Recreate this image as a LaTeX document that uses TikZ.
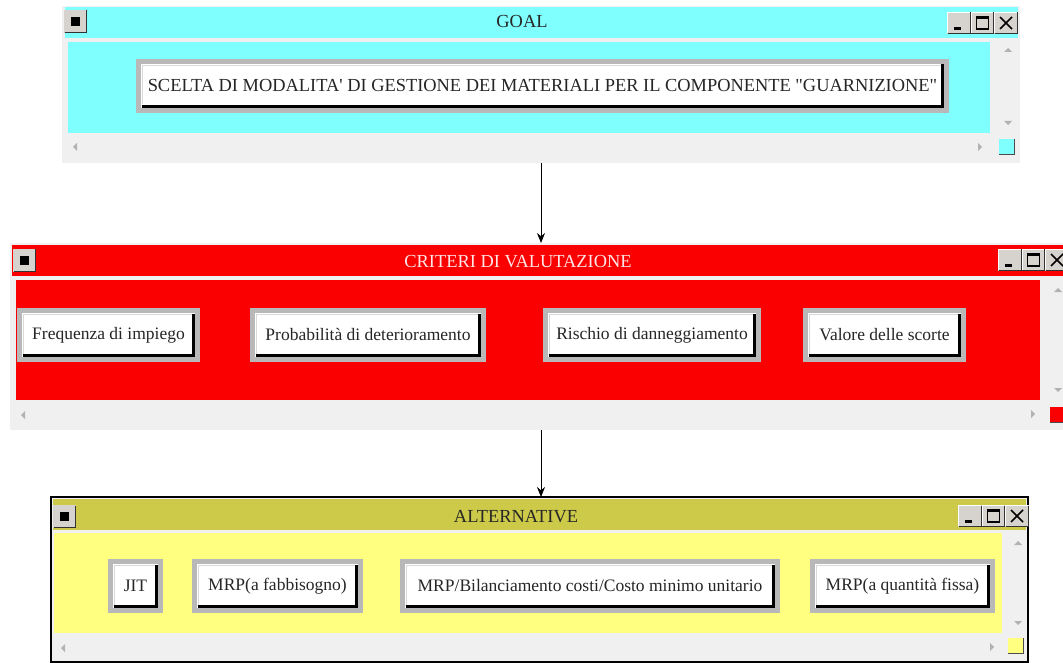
\documentclass[tikz,border=0pt]{standalone}
\usetikzlibrary{positioning, arrows.meta}
\font\winfont="Liberation Serif" at 17.5pt
\font\capfont="Liberation Serif" at 18.4pt
\definecolor{goal_cyan}{RGB}{128,255,255}
\definecolor{crit_red}{RGB}{250,0,0}
\definecolor{alt_yellow}{RGB}{255,255,128}
\definecolor{alt_olive}{RGB}{204,202,72}
\definecolor{frame_gray}{RGB}{240,240,240}
\definecolor{btn_gray}{RGB}{184,184,184}
\definecolor{knob_gray}{RGB}{214,211,206}

\begin{document}
\begin{tikzpicture}[x=1pt, y=-1pt]
	\tikzset{
		every node/.style={inner sep=0, outer sep=0}, % sizes are given by hand
		win/.style={fill=frame_gray, anchor=north west}, % window frame
		bar/.style={anchor=north west}, % title bar and client area
		btn/.style={draw=btn_gray, line width=5pt, fill=white, minimum height=49pt, font=\winfont, text=black!85}, % push buttons
		ttl/.style={font=\capfont}, % window titles
		link/.style={-{Stealth[length=10pt, width=8pt]}, line width=0.9pt}, % arrows between the windows
		tri/.style={fill=black!30}, % scroll bar arrows
	}
	\useasboundingbox (0,0) rectangle (1063,663);
	\clip (0,0) rectangle (1063,663);

	% GOAL window
	\node[win, minimum width=958pt, minimum height=157pt] (goal) at (62,6) {};
	\node[bar, fill=goal_cyan, minimum width=953pt, minimum height=31pt] (goalbar) at (65,7) {};
	\node[bar, fill=goal_cyan, minimum width=922pt, minimum height=91pt] (goalarea) at (68,42) {};
	\node[ttl, text=black!85] (goaltitle) at (522,22) {GOAL};
	\node[btn, font=\capfont, minimum width=808pt] (g0) at (542.5,86) {SCELTA DI MODALITA' DI GESTIONE DEI MATERIALI PER IL COMPONENTE "GUARNIZIONE"};

	% CRITERI window
	\node[win, minimum width=1060pt, minimum height=187pt] (crit) at (10,243) {};
	\node[bar, fill=crit_red, minimum width=1058pt, minimum height=31pt] (critbar) at (12,245) {};
	\node[bar, fill=crit_red, minimum width=1024pt, minimum height=120pt] (critarea) at (16,280) {};
	\node[ttl, text=white!90!red] (crittitle) at (518,262) {CRITERI DI VALUTAZIONE};
	\node[btn, minimum width=178pt] (c1) at (108.5,335) {Frequenza di impiego};
	\node[btn, minimum width=231pt] (c2) at (368,335) {Probabilità di deterioramento};
	\node[btn, minimum width=213pt] (c3) at (652,335) {Rischio di danneggiamento};
	\node[btn, minimum width=158pt] (c4) at (884.5,335) {Valore delle scorte};

	% ALTERNATIVE window
	\node[win, draw=black, line width=2pt, minimum width=977pt, minimum height=165pt] (alt) at (51,497) {};
	\node[bar, fill=alt_olive, minimum width=973pt, minimum height=31pt] (altbar) at (53,499) {};
	\node[bar, fill=alt_yellow, minimum width=948pt, minimum height=100pt] (altarea) at (54,533) {};
	\node[ttl, text=black!85] (alttitle) at (516,517) {ALTERNATIVE};
	\node[btn, minimum width=50pt] (a1) at (135.5,586) {JIT};
	\node[btn, minimum width=166pt] (a2) at (277.5,586) {MRP(a fabbisogno)};
	\node[btn, minimum width=375pt] (a3) at (590,586) {MRP/Bilanciamento costi/Costo minimo unitario};
	\node[btn, minimum width=180pt] (a4) at (902.5,586) {MRP(a quantità fissa)};

	% button shadows
	\foreach \b in {g0, c1, c2, c3, c4, a1, a2, a3, a4} {
		\draw[black!15, line width=1pt] ([shift={(4pt,6pt)}]\b.south west) -- ([shift={(4pt,-4pt)}]\b.north west) -- ([shift={(-6pt,-4pt)}]\b.north east);
		\draw[black, line width=3pt] ([shift={(3pt,4pt)}]\b.south west) -- ([shift={(-4pt,4pt)}]\b.south east) -- ([shift={(-4pt,-3pt)}]\b.north east);
	}

	% system menu boxes
	\foreach \sx/\sy in {64/10, 13/249, 53/505} {
		\fill[knob_gray] (\sx,\sy) rectangle ++(23,23);
		\draw[black!80, line width=1pt] (\sx+0.5,\sy+22.5) -- ++(22,0) -- ++(0,-22);
		\fill[black] (\sx+7,\sy+7) rectangle ++(9,9);
	}

	% minimize, maximize and close boxes
	\foreach \kx/\ky in {947/12, 998/249, 958/505} {
		\begin{scope}[shift={(\kx,\ky)}]
			\fill[knob_gray] (0,0) rectangle (71,22);
			\foreach \i in {0,1,2} {
				\draw[white, line width=1pt] ({\i*23.5+0.5},21) -- ({\i*23.5+0.5},0.5) -- ({\i*23.5+22.5},0.5);
				\draw[black!80, line width=1pt] ({\i*23.5+0.5},21.5) -- ({\i*23.5+23},21.5) -- ({\i*23.5+23},0.5);
			}
			\draw[line width=2.5pt] (7,16.5) -- (14,16.5);
			\draw[line width=1.2pt] (29.5,5) rectangle (41.5,17);
			\draw[line width=2.2pt] (29.5,5.5) -- (41.5,5.5);
			\draw[line width=1.6pt] (53,5) -- (65,17) (65,5) -- (53,17);
		\end{scope}
	}

	% scroll bar arrows
	\foreach \ux/\uy in {1008/50, 1058/290, 1018/543}
		\fill[tri] (\ux-4,\uy+2) -- (\ux+4,\uy+2) -- (\ux,\uy-2) -- cycle;
	\foreach \ux/\uy in {1008/123, 1058/390, 1018/623}
		\fill[tri] (\ux-4,\uy-2) -- (\ux+4,\uy-2) -- (\ux,\uy+2) -- cycle;
	\foreach \ux/\uy in {75/147, 23/415, 63/648}
		\fill[tri] (\ux+2,\uy-4) -- (\ux+2,\uy+4) -- (\ux-2,\uy) -- cycle;
	\foreach \ux/\uy in {980/147, 1033/414, 992/647}
		\fill[tri] (\ux-2,\uy-4) -- (\ux-2,\uy+4) -- (\ux+2,\uy) -- cycle;

	% size grips
	\foreach \gx/\gy/\gc in {999/139/goal_cyan, 1050/407/crit_red, 1008/638/alt_yellow} {
		\fill[\gc] (\gx,\gy) rectangle ++(16,16);
		\draw[black!70, line width=1.5pt] (\gx,\gy+15.5) -- ++(15.5,0) -- ++(0,-15.5);
	}

	% links between the levels
	\draw[link] (goal.south) -- (goal.south |- crit.north);
	\draw[link] (goal.south |- crit.south) -- (goal.south |- alt.north);
\end{tikzpicture}
\end{document}
